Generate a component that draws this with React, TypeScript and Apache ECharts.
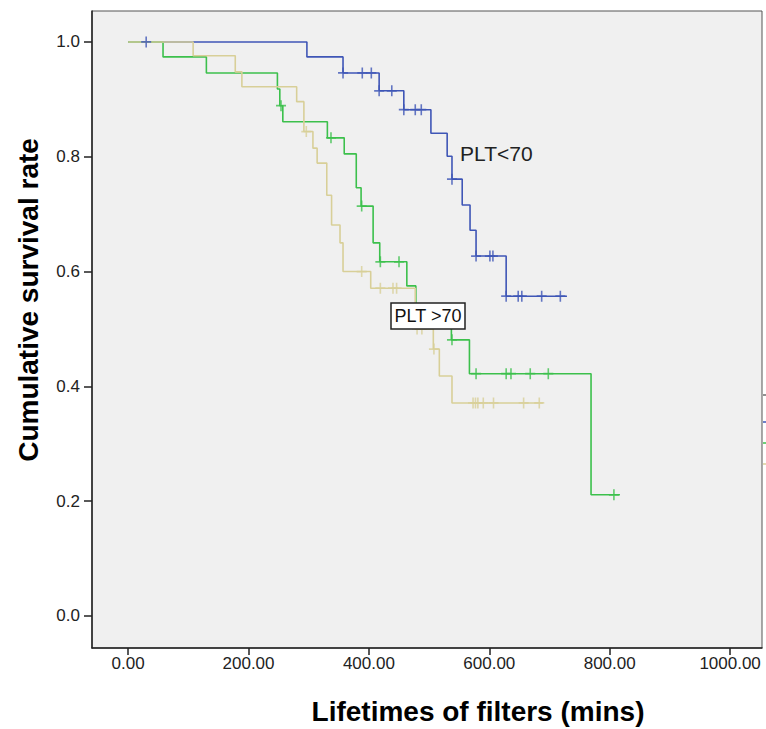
import React, { useEffect, useRef } from "react";
import * as echarts from "echarts";

// Kaplan-Meier step data (time in mins, cumulative survival)
const blueTimes = [0, 297, 357, 417, 458, 503, 530, 538, 555, 568, 578, 628, 729];
const blueSurv = [1.0, 0.974, 0.946, 0.915, 0.882, 0.841, 0.801, 0.761, 0.716, 0.672, 0.627, 0.557, 0.557];
const blueCensor = [30, 357, 389, 404, 417, 438, 458, 477, 487, 538, 578, 601, 606, 628, 648, 654, 687, 718];

const greenTimes = [0, 58, 130, 248, 252, 257, 331, 359, 379, 387, 407, 418, 463, 478, 537, 567, 769, 817];
const greenSurv = [1.0, 0.974, 0.946, 0.918, 0.889, 0.861, 0.833, 0.805, 0.746, 0.714, 0.65, 0.617, 0.575, 0.528, 0.481, 0.422, 0.211, 0.211];
const greenCensor = [254, 337, 388, 419, 450, 538, 578, 628, 636, 668, 698, 807];

const tanTimes = [0, 108, 178, 189, 280, 292, 307, 314, 330, 338, 352, 357, 403, 477, 507, 517, 538, 689];
const tanSurv = [1.0, 0.976, 0.948, 0.922, 0.896, 0.844, 0.815, 0.789, 0.733, 0.681, 0.65, 0.6, 0.571, 0.5, 0.465, 0.418, 0.371, 0.371];
const tanCensor = [296, 388, 419, 440, 446, 480, 488, 508, 573, 577, 581, 590, 607, 657, 683];

const xTicks = [0, 200, 400, 600, 800, 1000];
const yTicks = [0, 0.2, 0.4, 0.6, 0.8, 1.0];

const BLUE = "#3f56b6";
const GREEN = "#3cc04c";
const TAN = "#d8cf98";

const FONT = "'Liberation Sans', Arial, sans-serif";
const PLUS = "path://M0,4.2H10V5.8H0ZM4.2,0H5.8V10H4.2Z";

function stepData(times: number[], surv: number[]) {
  return times.map((t, i) => [t, surv[i]]);
}
function censorData(times: number[], surv: number[], cens: number[]) {
  return cens.map((c) => {
    let s = surv[0];
    for (let i = 0; i < times.length; i++) if (times[i] <= c) s = surv[i];
    return [c, s];
  });
}

export default function App() {
  const ref = useRef<HTMLDivElement>(null);
  useEffect(() => {
    if (!ref.current) return;
    const chart = echarts.init(ref.current, null, { renderer: "svg" });
    const lineSeries = (data: number[][], color: string) => ({
      type: "line",
      step: "end",
      data,
      symbol: "none",
      lineStyle: { color, width: 1.6 },
      z: 2,
    });
    const censorSeries = (data: number[][], color: string) => ({
      type: "scatter",
      data,
      symbol: PLUS,
      symbolSize: [10, 11],
      itemStyle: { color },
      z: 3,
    });
    chart.setOption({
      animation: false,
      backgroundColor: "#ffffff",
      grid: {
        left: 92,
        right: 4,
        top: 11,
        bottom: 81,
        show: true,
        backgroundColor: "#f0f0f0",
        borderColor: "#555",
        borderWidth: 1,
      },
      xAxis: {
        type: "value",
        min: -60,
        max: 1053,
        axisLine: { show: true, onZero: false, lineStyle: { color: "#222", width: 1.5 } },
        axisTick: { show: true, length: 7, customValues: xTicks, lineStyle: { color: "#222", width: 1.5 } },
        axisLabel: {
          customValues: xTicks,
          formatter: (v: number) => v.toFixed(2),
          fontSize: 17,
          color: "#222",
          margin: 7,
          fontFamily: FONT,
        },
        splitLine: { show: false },
      },
      yAxis: {
        type: "value",
        min: -0.056,
        max: 1.054,
        axisLine: { show: true, onZero: false, lineStyle: { color: "#222", width: 1.5 } },
        axisTick: { show: true, length: 8, customValues: yTicks, lineStyle: { color: "#222", width: 1.5 } },
        axisLabel: {
          customValues: yTicks,
          formatter: (v: number) => v.toFixed(1),
          fontSize: 17,
          color: "#222",
          margin: 12,
          fontFamily: FONT,
        },
        splitLine: { show: false },
      },
      graphic: [
        {
          type: "text",
          x: 28,
          y: 300,
          rotation: Math.PI / 2,
          style: {
            text: "Cumulative survival rate",
            font: `bold 28px ${FONT}`,
            fill: "#000",
            textAlign: "center",
            textVerticalAlign: "middle",
          },
        },
        {
          type: "text",
          x: 478,
          y: 711,
          style: {
            text: "Lifetimes of filters (mins)",
            font: `bold 28px ${FONT}`,
            fill: "#000",
            textAlign: "center",
            textVerticalAlign: "middle",
          },
        },
        {
          type: "text",
          x: 460,
          y: 153,
          z: 10,
          style: {
            text: "PLT<70",
            font: `21px ${FONT}`,
            fill: "#222",
            textAlign: "left",
            textVerticalAlign: "middle",
          },
        },
        {
          type: "rect",
          shape: { x: 391, y: 303, width: 74, height: 26 },
          z: 10,
          style: { fill: "#ffffff", stroke: "#222", lineWidth: 1.5 },
        },
        {
          type: "text",
          x: 428,
          y: 316,
          z: 11,
          style: {
            text: "PLT >70",
            font: `18px ${FONT}`,
            fill: "#111",
            textAlign: "center",
            textVerticalAlign: "middle",
          },
        },
        { type: "line", shape: { x1: 763, y1: 395, x2: 766, y2: 395 }, style: { stroke: "#222", lineWidth: 1 } },
        { type: "line", shape: { x1: 763, y1: 422, x2: 766, y2: 422 }, style: { stroke: BLUE, lineWidth: 1.5 } },
        { type: "line", shape: { x1: 763, y1: 443, x2: 766, y2: 443 }, style: { stroke: GREEN, lineWidth: 1.5 } },
        { type: "line", shape: { x1: 763, y1: 464, x2: 766, y2: 464 }, style: { stroke: TAN, lineWidth: 1.5 } },
      ],
      series: [
        lineSeries(stepData(blueTimes, blueSurv), BLUE),
        lineSeries(stepData(greenTimes, greenSurv), GREEN),
        lineSeries(stepData(tanTimes, tanSurv), TAN),
        censorSeries(censorData(tanTimes, tanSurv, tanCensor), TAN),
        censorSeries(censorData(greenTimes, greenSurv, greenCensor), GREEN),
        censorSeries(censorData(blueTimes, blueSurv, blueCensor), BLUE),
      ],
    });
    return () => chart.dispose();
  }, []);
  return (
    <div
      ref={ref}
      style={{ position: "absolute", left: 0, top: 0, width: 766, height: 729 }}
    />
  );
}
